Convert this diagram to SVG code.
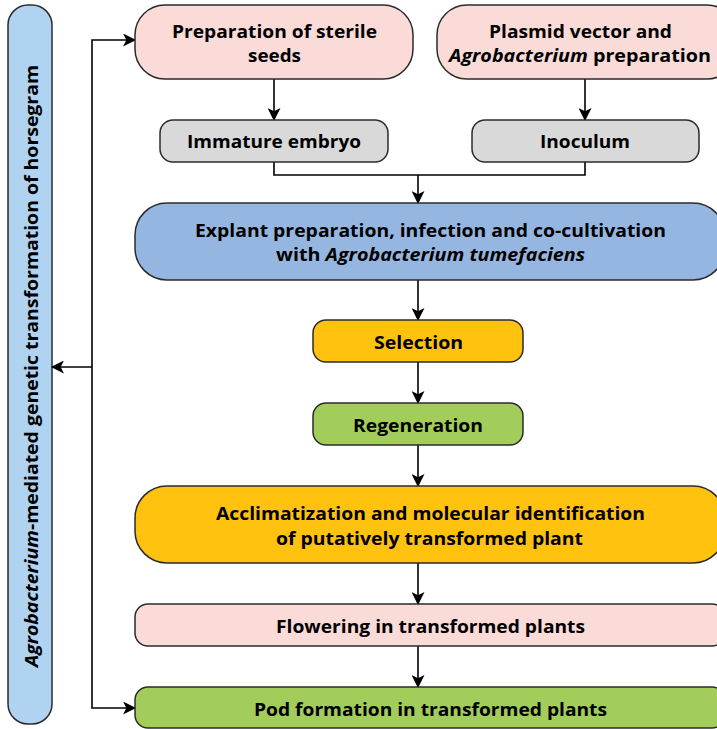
<svg xmlns="http://www.w3.org/2000/svg" width="717" height="729" viewBox="0 0 717 729">
<defs>
<marker id="ah" viewBox="0 0 12 12" refX="11" refY="6" markerWidth="13" markerHeight="13" markerUnits="userSpaceOnUse" orient="auto">
<path d="M0,0 L12,6 L0,12 L3,6 Z" fill="#000"/>
</marker>
<style>
.n{stroke:#2b2b2b;stroke-width:1.5}
.t{font-family:"Open Sans","Liberation Sans",Arial,sans-serif;font-weight:bold;font-size:18.5px;fill:#000;text-anchor:middle}
.i{font-style:italic}
.c{fill:none;stroke:#000;stroke-width:1.6}
.a{marker-end:url(#ah)}
</style>
</defs>
<rect width="717" height="729" fill="#fff"/>
<g id="side">
<rect class="n" x="8" y="5" width="44" height="719" rx="20" fill="#afd3f0"/>
<text class="t" transform="translate(38,366) rotate(-90)" textLength="602" lengthAdjust="spacingAndGlyphs"><tspan class="i">Agrobacterium</tspan>-mediated genetic transformation of horsegram</text>
</g>
<g id="connectors">
<path class="c a" d="M274,79 V120"/>
<path class="c a" d="M585,79 V120"/>
<path class="c" d="M274,162 V175 H585 V162"/>
<path class="c a" d="M418,175 V203"/>
<path class="c a" d="M418,280 V320"/>
<path class="c a" d="M418,362 V403"/>
<path class="c a" d="M418,445 V486"/>
<path class="c a" d="M418,563 V604"/>
<path class="c a" d="M418,646 V687"/>
<path class="c a" d="M92,367 H52"/>
<path class="c a" d="M92,367 V40 H135"/>
<path class="c a" d="M92,367 V708 H135"/>
</g>
<g id="seeds">
<rect class="n" x="135" y="5" width="278" height="74" rx="30" fill="#fadbd8"/>
<text class="t" x="274.5" y="38" textLength="205" lengthAdjust="spacingAndGlyphs">Preparation of sterile</text>
<text class="t" x="274.5" y="62" textLength="53" lengthAdjust="spacingAndGlyphs">seeds</text>
</g>
<g id="plasmid">
<rect class="n" x="437" y="5" width="300" height="74" rx="30" fill="#fadbd8"/>
<text class="t" x="580.5" y="38" textLength="183" lengthAdjust="spacingAndGlyphs">Plasmid vector and</text>
<text class="t" x="580" y="62" textLength="262" lengthAdjust="spacingAndGlyphs"><tspan class="i">Agrobacterium</tspan> preparation</text>
</g>
<g id="embryo">
<rect class="n" x="160" y="120" width="228" height="42" rx="13" fill="#d9d9d9"/>
<text class="t" x="274" y="148" textLength="174" lengthAdjust="spacingAndGlyphs">Immature embryo</text>
</g>
<g id="inoculum">
<rect class="n" x="472" y="120" width="227" height="42" rx="13" fill="#d9d9d9"/>
<text class="t" x="585" y="148" textLength="90" lengthAdjust="spacingAndGlyphs">Inoculum</text>
</g>
<g id="explant">
<rect class="n" x="135" y="203" width="590" height="77" rx="32" fill="#95b6e0"/>
<text class="t" x="430.5" y="237" textLength="471" lengthAdjust="spacingAndGlyphs">Explant preparation, infection and co-cultivation</text>
<text class="t" x="430.5" y="261" textLength="309" lengthAdjust="spacingAndGlyphs">with <tspan class="i">Agrobacterium tumefaciens</tspan></text>
</g>
<g id="selection">
<rect class="n" x="313" y="320" width="210" height="42" rx="13" fill="#ffc20e"/>
<text class="t" x="418.5" y="349" textLength="89" lengthAdjust="spacingAndGlyphs">Selection</text>
</g>
<g id="regeneration">
<rect class="n" x="313" y="403" width="210" height="42" rx="13" fill="#a2cd5a"/>
<text class="t" x="418" y="432" textLength="130" lengthAdjust="spacingAndGlyphs">Regeneration</text>
</g>
<g id="acclimatization">
<rect class="n" x="135" y="486" width="590" height="77" rx="32" fill="#ffc20e"/>
<text class="t" x="430.5" y="520" textLength="429" lengthAdjust="spacingAndGlyphs">Acclimatization and molecular identification</text>
<text class="t" x="429.5" y="545" textLength="307" lengthAdjust="spacingAndGlyphs">of putatively transformed plant</text>
</g>
<g id="flowering">
<rect class="n" x="135" y="604" width="590" height="42" rx="13" fill="#fadbd8"/>
<text class="t" x="430.5" y="633" textLength="309" lengthAdjust="spacingAndGlyphs">Flowering in transformed plants</text>
</g>
<g id="pod">
<rect class="n" x="135" y="687" width="590" height="41" rx="13" fill="#a2cd5a"/>
<text class="t" x="430.5" y="716" textLength="353" lengthAdjust="spacingAndGlyphs">Pod formation in transformed plants</text>
</g>
</svg>
